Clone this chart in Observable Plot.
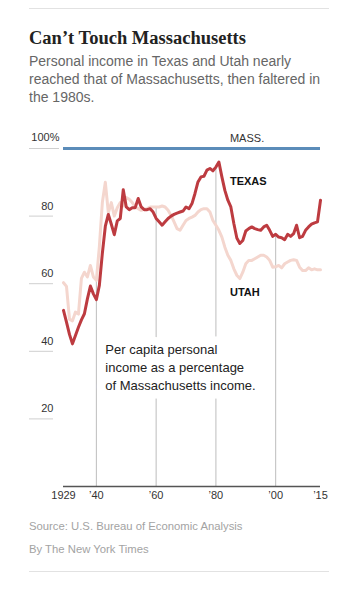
<!DOCTYPE html>
<html>
<head>
<meta charset="utf-8">
<script src="https://cdn.jsdelivr.net/npm/d3@7"></script>
<script src="https://cdn.jsdelivr.net/npm/@observablehq/plot@0.6"></script>
<style>
  html, body { margin: 0; padding: 0; background: #fff; }
  body { width: 344px; height: 589px; position: relative; overflow: hidden; }
  .rule { position: absolute; left: 29px; width: 300px; height: 1px; background: #e2e2e2; }
  .title { position: absolute; left: 29px; top: 26.8px; font-family: "Liberation Serif", "Times New Roman", serif; font-weight: bold; font-size: 18.5px; line-height: 22px; color: #222; white-space: nowrap; }
  .subtitle { position: absolute; left: 29px; top: 51.6px; font-family: "Liberation Sans", Arial, sans-serif; font-size: 14px; line-height: 18px; color: #666; white-space: nowrap; }
  .note { position: absolute; left: 29px; font-family: "Liberation Sans", Arial, sans-serif; font-size: 11.3px; line-height: 14px; color: #a3a3a3; white-space: nowrap; }
  #chart { position: absolute; left: 0; top: 118px; }
</style>
</head>
<body>
<div class="rule" style="top:8px"></div>
<div class="title">Can’t Touch Massachusetts</div>
<div class="subtitle">Personal income in Texas and Utah nearly<br>reached that of Massachusetts, then faltered in<br>the 1980s.</div>
<div id="chart"></div>
<div class="note" style="top:519px">Source: U.S. Bureau of Economic Analysis</div>
<div class="note" style="top:542px">By The New York Times</div>
<div class="rule" style="top:571px"></div>
<script>
const years = d3.range(1929, 2016);
const texas = [
  52.1, 48.6, 45.0, 42.2, 44.7, 47.1, 49.3, 51.1, 55.5, 59.3, 57.0,
  55.3, 59.5, 69.0, 77.0, 80.5, 77.6, 74.5, 78.6, 79.3, 87.8, 82.7,
  81.9, 82.5, 82.5, 85.2, 82.7, 81.9, 81.9, 82.2, 81.2, 79.3, 78.3,
  77.3, 78.3, 79.3, 80.0, 80.5, 80.9, 81.2, 81.5, 82.7, 82.2, 83.7,
  86.7, 90.1, 91.6, 91.8, 93.6, 94.1, 93.4, 94.5, 96.0, 91.6, 87.6,
  84.7, 82.7, 77.8, 73.5, 71.9, 72.8, 75.6, 76.3, 76.8, 76.3, 76.0,
  75.8, 76.8, 77.3, 75.8, 74.0, 74.6, 73.8, 73.6, 73.0, 74.6, 74.0,
  74.8, 77.3, 73.6, 74.0, 75.8, 76.8, 77.6, 78.0, 78.3, 84.7
];
const utah = [
  60.3, 59.2, 49.5, 49.0, 51.6, 51.0, 61.6, 63.4, 62.0, 65.4, 62.0,
  61.0, 71.0, 84.0, 90.0, 81.0, 84.0, 80.0, 82.5, 84.0, 83.0, 85.5,
  85.0, 84.0, 82.7, 82.2, 81.7, 82.0, 82.2, 82.7, 82.7, 82.7, 82.7,
  83.0, 82.7, 81.7, 80.2, 78.3, 76.3, 75.8, 77.3, 78.7, 79.3, 79.7,
  80.2, 81.2, 81.9, 82.2, 82.2, 81.2, 78.7, 77.3, 75.8, 73.8, 70.8,
  68.4, 66.9, 64.4, 62.5, 61.5, 63.4, 65.9, 66.9, 66.9, 67.4, 67.9,
  68.4, 68.4, 67.9, 66.9, 64.9, 65.0, 65.4, 64.7, 65.9, 66.4, 66.9,
  67.1, 66.9, 64.9, 63.9, 63.9, 64.7, 64.1, 64.4, 64.1, 64.1
];
const massLevel = [100];
const gridYears = [1940, 1960, 1980, 2000];
const xTicks = [1929, 1940, 1960, 1980, 2000, 2015];
const xTickLabels = ["1929", "’40", "’60", "’80", "’00", "’15"];
const yTicks = [20, 40, 60, 80];
const yTopTick = [100];
const seriesLabels = ["MASS.", "TEXAS", "UTAH"];
const noteText = "Per capita personal\nincome as a percentage\nof Massachusetts income.";

const rows = years.map((year, i) => ({year, texas: texas[i], utah: utah[i]}));
const peakAt = (yr) => { const r = rows.find(d => d.year === yr); return Math.max(r.texas, r.utah); };

const noteOpts = {x: () => 1943, y: () => 35.5, text: d => d, textAnchor: "start", lineAnchor: "middle", lineHeight: 1.38, fontSize: 13};

const chart = Plot.plot({
  width: 344,
  height: 388,
  marginLeft: 63,
  marginRight: 24,
  marginTop: 30,
  marginBottom: 20,
  x: {domain: [1929, 2015], label: null},
  y: {domain: [0, 100], label: null},
  style: {fontFamily: "'Liberation Sans', Arial, sans-serif", fontSize: "11px", color: "#333", background: "transparent", overflow: "visible"},
  marks: [
    Plot.ruleX(gridYears, {x: d => d, y1: () => 0, y2: d => peakAt(d), stroke: "#bdbdbd", strokeWidth: 1}),
    Plot.text([noteText], {...noteOpts, fill: "white", stroke: "white", strokeWidth: 17, strokeLinejoin: "round"}),
    Plot.text([noteText], {...noteOpts, fill: "#222"}),
    Plot.line(rows, {x: "year", y: "utah", stroke: "#f4d6ce", strokeWidth: 3, strokeLinejoin: "round"}),
    Plot.line(rows, {x: "year", y: "texas", stroke: "#bd3b40", strokeWidth: 3, strokeLinejoin: "round"}),
    Plot.ruleY([0], {stroke: "#555", strokeWidth: 1.5}),
    Plot.ruleY(massLevel, {stroke: "#5b8cb9", strokeWidth: 3}),
    Plot.axisY({ticks: yTicks, tickSize: 24, tickFormat: () => "", dx: -10, stroke: "#cfcfcf", label: null}),
    Plot.axisY({ticks: yTopTick, tickSize: 30, tickFormat: () => "", dx: -4, stroke: "#cfcfcf", label: null}),
    Plot.axisY({ticks: yTicks, tickSize: 0, tickPadding: 0, dx: -10, dy: -10, tickFormat: d => String(d), fill: "#333", label: null}),
    Plot.axisY({ticks: yTopTick, tickSize: 0, tickPadding: 0, dx: -4, dy: -11, tickFormat: d => d + "%", fill: "#333", label: null}),
    Plot.axisX({ticks: xTicks, tickSize: 0, tickPadding: 5, tickFormat: d => xTickLabels[xTicks.indexOf(d)], fill: "#333", label: null}),
    Plot.text([seriesLabels[0]], {x: () => 1984.7, y: () => 100, dy: -10, text: d => d, textAnchor: "start", fill: "#333", fontSize: 11}),
    Plot.text([seriesLabels[1]], {x: () => 1984.7, y: () => 90.3, text: d => d, textAnchor: "start", fill: "#111", fontSize: 11, fontWeight: "bold"}),
    Plot.text([seriesLabels[2]], {x: () => 1984.7, y: () => 57.5, text: d => d, textAnchor: "start", fill: "#111", fontSize: 11, fontWeight: "bold"})
  ]
});
document.getElementById("chart").appendChild(chart);
</script>
</body>
</html>
